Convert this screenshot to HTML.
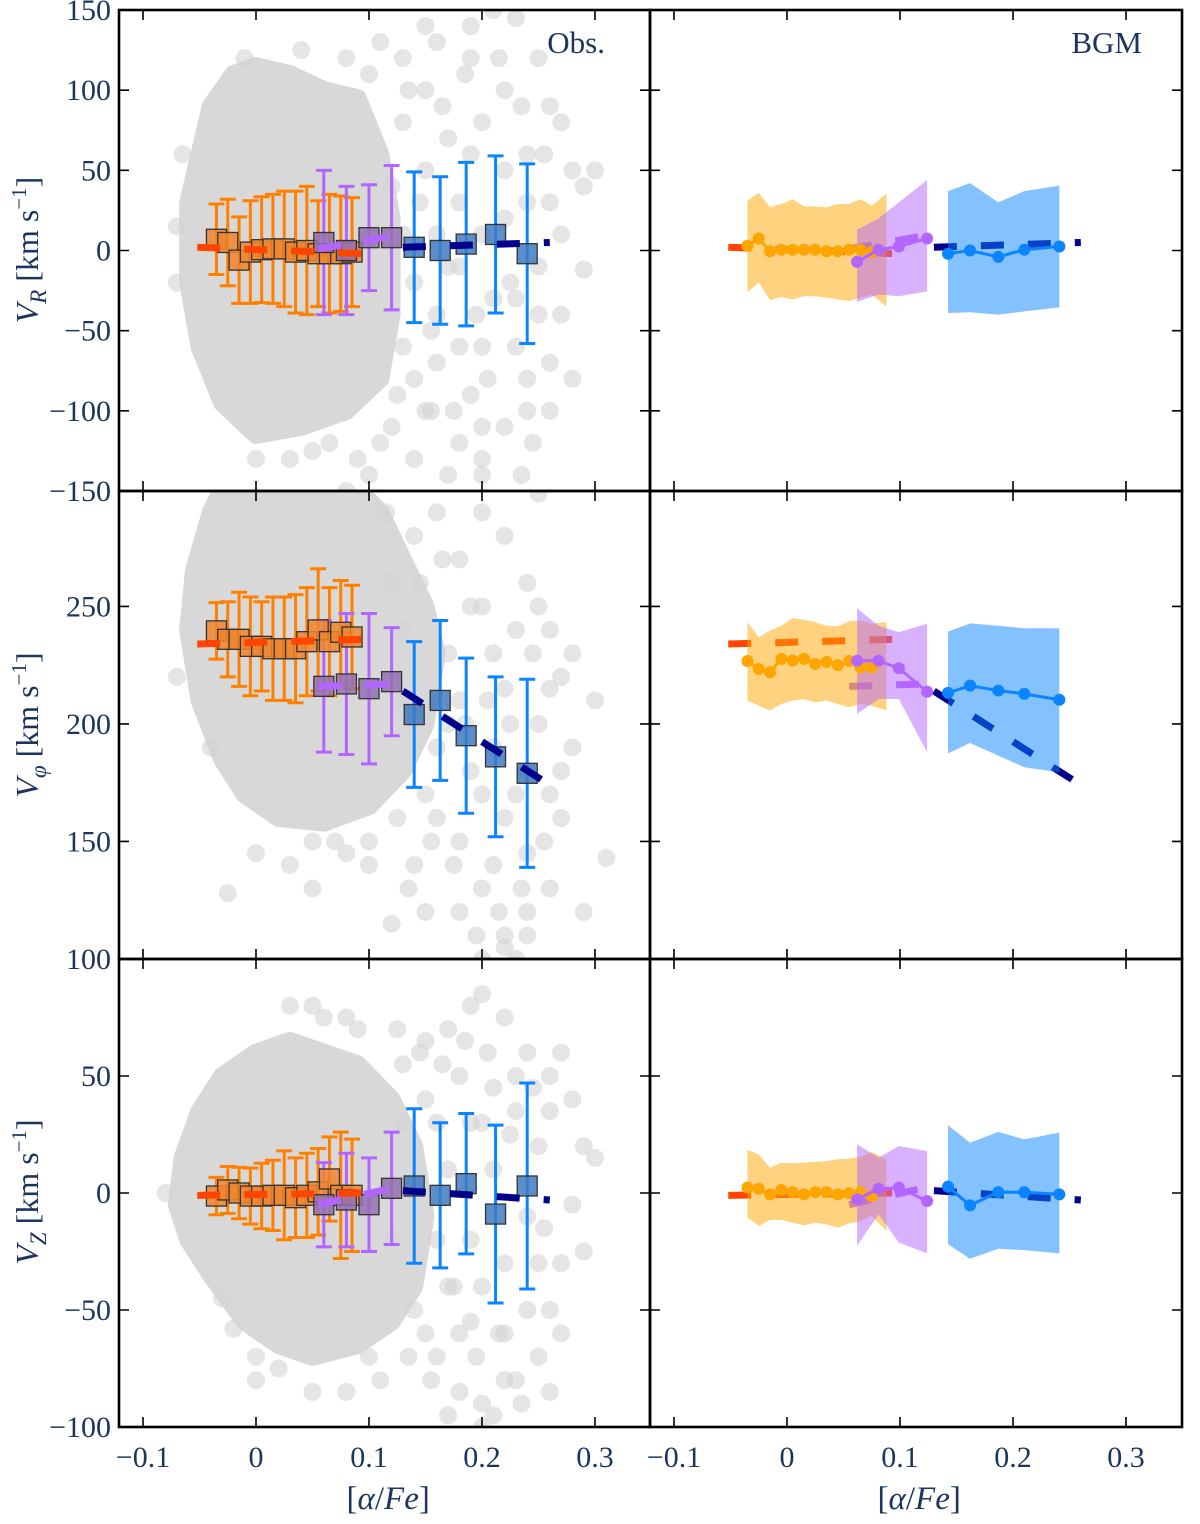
<!DOCTYPE html>
<html><head><meta charset="utf-8"><style>
html,body{margin:0;padding:0;background:#fff;}
svg{display:block;}
text{font-family:"Liberation Serif",serif;fill:#1c355e;}
</style></head><body>
<svg id="chart" width="1200" height="1524" viewBox="0 0 1200 1524" xmlns="http://www.w3.org/2000/svg"></svg>
<script>
// ---------- data ----------
const ALPHA_OR=[-0.035,-0.025,-0.015,-0.005,0.005,0.015,0.025,0.035,0.045,0.055,0.065,0.075,0.085];
const ALPHA_PU=[0.06,0.08,0.1,0.12];
const ALPHA_BL=[0.14,0.163,0.186,0.212,0.24];
const OBS_VR_OR=[7,5,-6,-1,0.5,1,1,-1,0,-2,-2,-2,-1];
const OBS_VR_OR_SIG=[22,27,27,32,33,34,36,38,40,33,37,36,34];
const OBS_VP_OR=[239.6,236,236,233,233,232,232,232,235,240,235,239,237];
const OBS_VP_OR_SIG=[12,16,20,21,19,22,22,23,23,26,23,22,22];
const OBS_VZ_OR=[-1.3,1.3,0,-1.3,-1.3,-1,-1,-2,-1,0.5,6,-1,-1];
const OBS_VZ_OR_SIG=[8,10,11,12,14,15,19,17,18,18.5,18,27,24];
const OBS_VR_PU=[5,0,8,8], OBS_VR_PU_SIG=[45,40,33,45];
const OBS_VP_PU=[216,217,215,218], OBS_VP_PU_SIG=[28,30,32,23];
const OBS_VZ_PU=[-5,-3,-5,2], OBS_VZ_PU_SIG=[18,20,20,24];
const OBS_VR_BL=[2,0,4,10,-2], OBS_VR_BL_SIG=[47,46,51,49,56];
const OBS_VP_BL=[204,210,195,186,179], OBS_VP_BL_SIG=[31,34,33,34,40];
const OBS_VZ_BL=[3,-1,4,-9,3], OBS_VZ_BL_SIG=[33,31,30,38,44];
// fits
const FIT_OR_A=[-0.052,0.095], FIT_PU_A=[0.055,0.12], FIT_BL_A=[0.13,0.26];
const FIT_VR_OR=[2,-2], FIT_VR_PU=[1,9], FIT_VR_BL=[2,5];
const FIT_VP_OR=[234,236], FIT_VP_PU=[216,217], FIT_VP_BL=[214,174];
const FIT_VZ_OR=[-1,0], FIT_VZ_PU=[-5,2], FIT_VZ_BL=[1,-3];
// BGM
const BGM_A_OR=[-0.035,-0.025,-0.015,-0.005,0.005,0.015,0.025,0.035,0.045,0.055,0.065,0.075];
const BGM_BAND_A_OR=[-0.035,-0.025,-0.015,-0.005,0.005,0.015,0.025,0.035,0.045,0.055,0.065,0.075,0.088];
const BGM_A_PU=[0.062,0.081,0.099,0.124];
const BGM_A_BL=[0.1425,0.162,0.187,0.21,0.241];
const BGM_VR_OR=[3,7.5,-0.5,0.5,0.5,0.5,0.5,-0.5,-0.5,0.5,0.5,-1];
const BGM_VR_OR_UP=[31,36,27,29,32,27.5,27.5,27,29,29,32,28,35.5];
const BGM_VR_OR_LO=[-26,-20,-31,-29,-30.5,-28.5,-28.5,-29.5,-30.5,-31.5,-29.5,-27.5,-35];
const BGM_VR_PU=[-7,0.5,2.5,7.5], BGM_VR_PU_UP=[13,20,30,44], BGM_VR_PU_LO=[-32,-27.5,-28.5,-25.5];
const BGM_VR_BL=[-2,0,-4,0.5,2.5], BGM_VR_BL_UP=[37,42,30,37,40.5], BGM_VR_BL_LO=[-39,-38.5,-40,-38,-35.5];
const BGM_VP_OR=[226.8,223.4,222,227.7,227,227.7,225.5,226.4,225,226.8,224,224];
const BGM_VP_OR_UP=[243.3,236.9,239.7,241.8,245,244.4,243.3,241.8,241.6,243.7,244,242.6,243.3];
const BGM_VP_OR_LO=[209.9,207.8,205.7,208.5,209.9,210.6,209.2,209.9,208.5,207.1,208.5,207.8,205.7];
const BGM_VP_PU=[226.9,226.9,223.7,213.7], BGM_VP_PU_UP=[249.2,241.8,239,242.6], BGM_VP_PU_LO=[204.3,210.6,210.6,188];
const BGM_VP_BL=[213.2,216.3,214.2,212.8,210.3], BGM_VP_BL_UP=[239.3,242.8,241.8,240.7,240.7], BGM_VP_BL_LO=[187.5,191.9,186.5,181.6,179.4];
const BGM_VZ_OR=[2.3,1.8,-0.6,1.3,0.4,-0.6,0.4,0.4,-0.6,-0.1,0.3,-1.3];
const BGM_VZ_OR_UP=[18.4,16.5,10.8,13,12.7,13,13.3,13.7,14.4,14.7,15.5,17.5,14.4];
const BGM_VZ_OR_LO=[-10.5,-14.1,-11.5,-11.5,-12.7,-13.8,-12.7,-13.4,-14.8,-13,-12,-9.8,-16.2];
const BGM_VZ_PU=[-2.7,1.8,2.3,-3.4], BGM_VZ_PU_UP=[20.8,15.1,20.1,17.9], BGM_VZ_PU_LO=[-22.6,-9.1,-21.2,-25.8];
const BGM_VZ_BL=[2.7,-5.3,0.4,0.3,-0.6], BGM_VZ_BL_UP=[28.9,21.5,26.1,22.9,25.8], BGM_VZ_BL_LO=[-21.9,-28.1,-23.8,-24.4,-25.8];
// grey star sample: core outline + sparse stars (alpha, v)
const CORE_VR_A=[-0.06,-0.05,-0.04,-0.02,0.0,0.03,0.06,0.09,0.11,0.12,0.12,0.11,0.08,0.04,0.0,-0.03,-0.05,-0.06];
const CORE_VR_V=[30,60,90,110,115,110,100,95,60,20,-40,-80,-100,-110,-115,-95,-60,-20];
const STAR_VR_A=[0.13,0.16,0.19,0.21,0.23,0.25,0.22,0.26,0.28,0.29,0.3,0.29,0.27,0.26,0.24,0.22,0.2,0.18,0.15,0.14,0.13,0.16,0.2,0.23,0.25,0.27,0.26,0.24,0.2,0.17,0.15,0.13,0.18,0.22,0.16,0.19,0.14,0.12,0.1,0.08,-0.07,-0.07,-0.065,0.03,0.0,0.05,0.2,0.24,0.28,0.11,0.08,0.04,-0.01,0.235,0.17,0.155,
 0.12,0.13,0.14,0.15,0.16,0.17,0.18,0.19,0.2,0.21,0.22,0.23,0.24,0.25,0.26,0.27,0.125,0.135,0.145,0.155,0.165,0.175,0.185,0.195,0.205,0.215,0.225,0.235,0.245,0.255,0.11,0.1,0.09,0.065,0.15,0.19,0.2,0.18];
const STAR_VR_V=[120,130,140,150,145,120,100,90,50,40,50,-12,-40,-70,-100,-110,-130,-120,-100,-80,-60,-40,-60,-30,-10,10,30,60,80,70,100,80,30,20,-70,-90,-130,-110,-140,-150,-20,15,60,-130,-130,-125,-140,-80,-80,130,120,125,120,-140,-140,-100,
 40,10,-20,50,10,-10,-60,60,10,-30,50,-60,30,-40,-100,80,-90,100,30,-50,90,-100,110,-40,-80,120,-20,90,-120,60,-120,110,-130,-120,140,120,-110,-10];
const CORE_VP_A=[-0.06,-0.055,-0.04,-0.03,0.09,0.11,0.13,0.15,0.16,0.15,0.13,0.1,0.06,0.02,-0.01,-0.03,-0.05];
const CORE_VP_V=[240,265,290,300,300,290,270,250,230,200,180,165,158,160,170,185,210];
const STAR_VP_A=[-0.07,-0.04,-0.025,0.07,0.1,0.12,0.14,0.16,0.18,0.2,0.22,0.23,0.24,0.26,0.27,0.28,0.3,0.31,0.28,0.26,0.24,0.22,0.2,0.18,0.23,0.21,0.19,0.17,0.25,0.27,0.29,0.2,0.15,0.16,0.25,0.13,0.22,0.26,0.18,0.21,0.24,0.115,0.14,0.05,0.0,0.03,
 0.12,0.13,0.14,0.15,0.16,0.17,0.18,0.19,0.2,0.21,0.22,0.23,0.24,0.25,0.26,0.27,0.125,0.135,0.145,0.155,0.165,0.175,0.185,0.195,0.205,0.215,0.225,0.235,0.245,0.255,0.1,0.08,0.05,0.2,0.22,0.24];
const STAR_VP_V=[220,190,128,150,140,115,140,160,150,130,110,100,120,130,160,190,210,143,230,240,260,280,250,270,170,190,180,200,200,180,120,100,120,290,298,210,215,215,120,140,145,290,280,130,145,140,
 260,240,200,170,190,230,210,250,170,230,160,240,180,250,170,220,160,130,260,150,270,140,200,110,210,120,200,130,230,150,150,145,150,290,105,110];
const CORE_VZ_A=[-0.07,-0.065,-0.05,-0.03,0.0,0.03,0.06,0.09,0.12,0.14,0.15,0.14,0.12,0.09,0.05,0.02,-0.01,-0.04,-0.06];
const CORE_VZ_V=[-5,15,35,50,60,65,60,55,40,20,-10,-40,-55,-65,-70,-65,-55,-35,-20];
const STAR_VZ_A=[0.13,0.15,0.17,0.19,0.2,0.22,0.24,0.26,0.28,0.29,0.3,0.28,0.27,0.26,0.25,0.23,0.21,0.2,0.18,0.16,0.15,0.17,0.19,0.22,0.24,0.25,0.23,0.21,0.18,0.16,0.27,0.26,0.22,0.19,0.11,0.08,0.05,0.02,0.0,-0.02,0.03,0.06,0.09,-0.08,0.29,0.2,
 0.12,0.13,0.14,0.15,0.16,0.17,0.18,0.19,0.2,0.21,0.22,0.23,0.24,0.25,0.26,0.27,0.125,0.135,0.145,0.155,0.165,0.175,0.185,0.195,0.205,0.215,0.225,0.235,0.245,0.255,0.1,0.08,0.05,0.0,-0.03,0.2,0.17];
const STAR_VZ_V=[55,65,70,80,85,75,60,50,40,20,15,-5,-30,-50,-70,-80,-95,-100,-85,-70,-60,-40,-20,-30,-10,20,35,45,50,30,60,-85,-60,-55,-80,-85,-85,-75,-80,-58,80,75,70,0,-25,30,
 -20,30,-50,40,-20,10,-60,30,-40,10,-80,50,-50,-30,35,-60,70,-70,60,-80,55,-40,65,-70,60,-60,25,-90,45,-15,-70,75,80,-70,-45,-90,-95];

// ---------- geometry ----------
const NS='http://www.w3.org/2000/svg';
const svg=document.getElementById('chart');
const COLS=[{x0:119,x1:650,zero:256},{x0:650,x1:1182,zero:787}];
const ROWS=[{y0:10,y1:491,vmin:-150,vmax:150},{y0:491,y1:959,vmin:100,vmax:299.1},{y0:959,y1:1427,vmin:-100,vmax:100}];
const PXA=1130;
function xs(c,a){return COLS[c].zero+a*PXA;}
function ys(r,v){const R=ROWS[r];return R.y1-(v-R.vmin)/(R.vmax-R.vmin)*(R.y1-R.y0);}
function mk(tag,attrs,parent){const e=document.createElementNS(NS,tag);for(const k in attrs)e.setAttribute(k,attrs[k]);(parent||svg).appendChild(e);return e;}

const defs=mk('defs',{});
for(let r=0;r<3;r++)for(let c=0;c<2;c++){
  const cp=mk('clipPath',{id:'clip'+r+c},defs);
  mk('rect',{x:COLS[c].x0,y:ROWS[r].y0,width:COLS[c].x1-COLS[c].x0,height:ROWS[r].y1-ROWS[r].y0},cp);
}
function grp(r,c,name){const g=mk('g',{'clip-path':'url(#clip'+r+c+')'});


return g;}

const OR='#ff8000',PU='#b266ff',BL='#0a84ff';
const OBS=[
 {core:[CORE_VR_A,CORE_VR_V],stars:[STAR_VR_A,STAR_VR_V],or:[OBS_VR_OR,OBS_VR_OR_SIG],pu:[OBS_VR_PU,OBS_VR_PU_SIG],bl:[OBS_VR_BL,OBS_VR_BL_SIG],fit:[FIT_VR_OR,FIT_VR_PU,FIT_VR_BL]},
 {core:[CORE_VP_A,CORE_VP_V],stars:[STAR_VP_A,STAR_VP_V],or:[OBS_VP_OR,OBS_VP_OR_SIG],pu:[OBS_VP_PU,OBS_VP_PU_SIG],bl:[OBS_VP_BL,OBS_VP_BL_SIG],fit:[FIT_VP_OR,FIT_VP_PU,FIT_VP_BL]},
 {core:[CORE_VZ_A,CORE_VZ_V],stars:[STAR_VZ_A,STAR_VZ_V],or:[OBS_VZ_OR,OBS_VZ_OR_SIG],pu:[OBS_VZ_PU,OBS_VZ_PU_SIG],bl:[OBS_VZ_BL,OBS_VZ_BL_SIG],fit:[FIT_VZ_OR,FIT_VZ_PU,FIT_VZ_BL]}
];
const BGM=[
 {or:[BGM_VR_OR,BGM_VR_OR_UP,BGM_VR_OR_LO],pu:[BGM_VR_PU,BGM_VR_PU_UP,BGM_VR_PU_LO],bl:[BGM_VR_BL,BGM_VR_BL_UP,BGM_VR_BL_LO]},
 {or:[BGM_VP_OR,BGM_VP_OR_UP,BGM_VP_OR_LO],pu:[BGM_VP_PU,BGM_VP_PU_UP,BGM_VP_PU_LO],bl:[BGM_VP_BL,BGM_VP_BL_UP,BGM_VP_BL_LO]},
 {or:[BGM_VZ_OR,BGM_VZ_OR_UP,BGM_VZ_OR_LO],pu:[BGM_VZ_PU,BGM_VZ_PU_UP,BGM_VZ_PU_LO],bl:[BGM_VZ_BL,BGM_VZ_BL_UP,BGM_VZ_BL_LO]}
];
const FIT_A=[FIT_OR_A,FIT_PU_A,FIT_BL_A];
const FIT_COL=['#ff4500','#b266ff','#00008b'];
const FIT_NAMES=['fit-line-low-alpha','fit-line-mid-alpha','fit-line-high-alpha'];

function drawFits(r,c,g,d){
  for(let k=0;k<3;k++){
    const l=mk('line',{x1:xs(c,FIT_A[k][0]),y1:ys(r,d.fit[k][0]),x2:xs(c,FIT_A[k][1]),y2:ys(r,d.fit[k][1]),stroke:FIT_COL[k],'stroke-width':7,'stroke-dasharray':'23 24'},g);
    
    
  }
}

for(let r=0;r<3;r++){
  const d=OBS[r];
  const g=grp(r,0,'obs-panel-row'+(r+1));
  let pts='';
  for(let i=0;i<d.core[0].length;i++)pts+=xs(0,d.core[0][i])+','+ys(r,d.core[1][i])+' ';
  const core=mk('polygon',{points:pts,fill:'#d8d8d8',stroke:'#d8d8d8','stroke-width':18,'stroke-linejoin':'round'},g);
  
  
  for(let i=0;i<d.stars[0].length;i++){
    const s=mk('circle',{cx:xs(0,d.stars[0][i]),cy:ys(r,d.stars[1][i]),r:9,fill:'#d3d3d3','fill-opacity':0.6},g);
    
    
  }
  const groups=[[ALPHA_OR,d.or,OR,'#f0852e'],[ALPHA_PU,d.pu,PU,'#9470b3'],[ALPHA_BL,d.bl,BL,'#3f7bbf']];
  groups.forEach(([A,vals,col,fill])=>{
    for(let i=0;i<A.length;i++){
      const x=xs(0,A[i]),yt=ys(r,vals[0][i]+vals[1][i]),yb=ys(r,vals[0][i]-vals[1][i]);
      const eb=mk('path',{d:`M${x},${yt}V${yb}M${x-8},${yt}H${x+8}M${x-8},${yb}H${x+8}`,stroke:col,'stroke-width':3,fill:'none'},g);
      
      
    }
  });
  groups.forEach(([A,vals,col,fill])=>{
    for(let i=0;i<A.length;i++){
      const x=xs(0,A[i]),y=ys(r,vals[0][i]);
      const sq=mk('rect',{x:x-10,y:y-10,width:20,height:20,fill:fill,'fill-opacity':0.85,stroke:'#333','stroke-width':1.3},g);
      
      
    }
  });
  drawFits(r,0,g,d);

  const b=BGM[r];
  const g2=grp(r,1,'bgm-panel-row'+(r+1));
  drawFits(r,1,g2,d);
  const sets=[[BGM_A_OR,BGM_BAND_A_OR,b.or,'#ffa500'],[BGM_A_PU,BGM_A_PU,b.pu,PU],[BGM_A_BL,BGM_A_BL,b.bl,BL]];
  const names=['low','mid','high'];
  sets.forEach(([A,BA,v,col],si)=>{
    let p='';
    for(let i=0;i<BA.length;i++)p+=xs(1,BA[i])+','+ys(r,v[1][i])+' ';
    for(let i=BA.length-1;i>=0;i--)p+=xs(1,BA[i])+','+ys(r,v[2][i])+' ';
    const band=mk('polygon',{points:p,fill:col,'fill-opacity':0.5},g2);
    
    
  });
  sets.forEach(([A,BA,v,col],si)=>{
    let p='';
    for(let i=0;i<A.length;i++)p+=xs(1,A[i])+','+ys(r,v[0][i])+' ';
    const ln=mk('polyline',{points:p,fill:'none',stroke:col,'stroke-width':3},g2);
    
    
    for(let i=0;i<A.length;i++){
      const c=mk('circle',{cx:xs(1,A[i]),cy:ys(r,v[0][i]),r:6,fill:col},g2);
      
      
    }
  });
}

// ---------- axes ----------
const XT=[-0.1,0,0.1,0.2,0.3], XTL=['\u22120.1','0','0.1','0.2','0.3'];
const YT=[[-150,-100,-50,0,50,100,150],[100,150,200,250],[-100,-50,0,50,100]];
const YTL=[['\u2212150','\u2212100','\u221250','0','50','100','150'],[null,'150','200','250'],['\u2212100','\u221250','0','50','100']];
const axg=mk('g',{});


for(let r=0;r<3;r++)for(let c=0;c<2;c++){
  const C=COLS[c],R=ROWS[r];
  let dd='';
  XT.forEach(a=>{const x=xs(c,a);dd+=`M${x},${R.y0}v10M${x},${R.y1}v-10`;});
  YT[r].forEach(v=>{const y=ys(r,v);dd+=`M${C.x0},${y}h10M${C.x1},${y}h-10`;});
  const t=mk('path',{d:dd,stroke:'#000','stroke-width':1.6,fill:'none'},axg);
  
  
  const fr=mk('rect',{x:C.x0,y:R.y0,width:C.x1-C.x0,height:R.y1-R.y0,fill:'none',stroke:'#000','stroke-width':2.6},axg);
  
  
}
for(let r=0;r<3;r++){
  YT[r].forEach((v,i)=>{
    if(!YTL[r][i])return;
    const t=mk('text',{x:111,y:ys(r,v)+10,'text-anchor':'end','font-size':30},axg);
    t.textContent=YTL[r][i];
    
    
  });
}
for(let c=0;c<2;c++){
  XT.forEach((a,i)=>{
    const t=mk('text',{x:xs(c,a),y:1467,'text-anchor':'middle','font-size':30},axg);
    t.textContent=XTL[i];
    
    
  });
  const xl=mk('text',{x:xs(c,0.117),y:1509,'text-anchor':'middle','font-size':33},axg);
  xl.innerHTML='[<tspan font-style="italic">α</tspan>/<tspan font-style="italic">Fe</tspan>]';
  
  
}
const YL=[['R',250],['\u03c6',725],['Z',1192]];
YL.forEach(([sub,cy])=>{
  const t=mk('text',{x:0,y:0,transform:`translate(38,${cy}) rotate(-90)`,'text-anchor':'middle','font-size':32},axg);
  t.innerHTML=`<tspan font-style="italic">V</tspan><tspan font-style="italic" font-size="23" dy="8">${sub}</tspan><tspan dy="-8"> [km s</tspan><tspan font-size="21" dy="-12">\u22121</tspan><tspan dy="12">]</tspan>`;
  
  
});
const t1=mk('text',{x:605,y:53,'text-anchor':'end','font-size':31},axg);
t1.textContent='Obs.';


const t2=mk('text',{x:1142,y:53,'text-anchor':'end','font-size':31},axg);
t2.textContent='BGM';


</script>
</body></html>
